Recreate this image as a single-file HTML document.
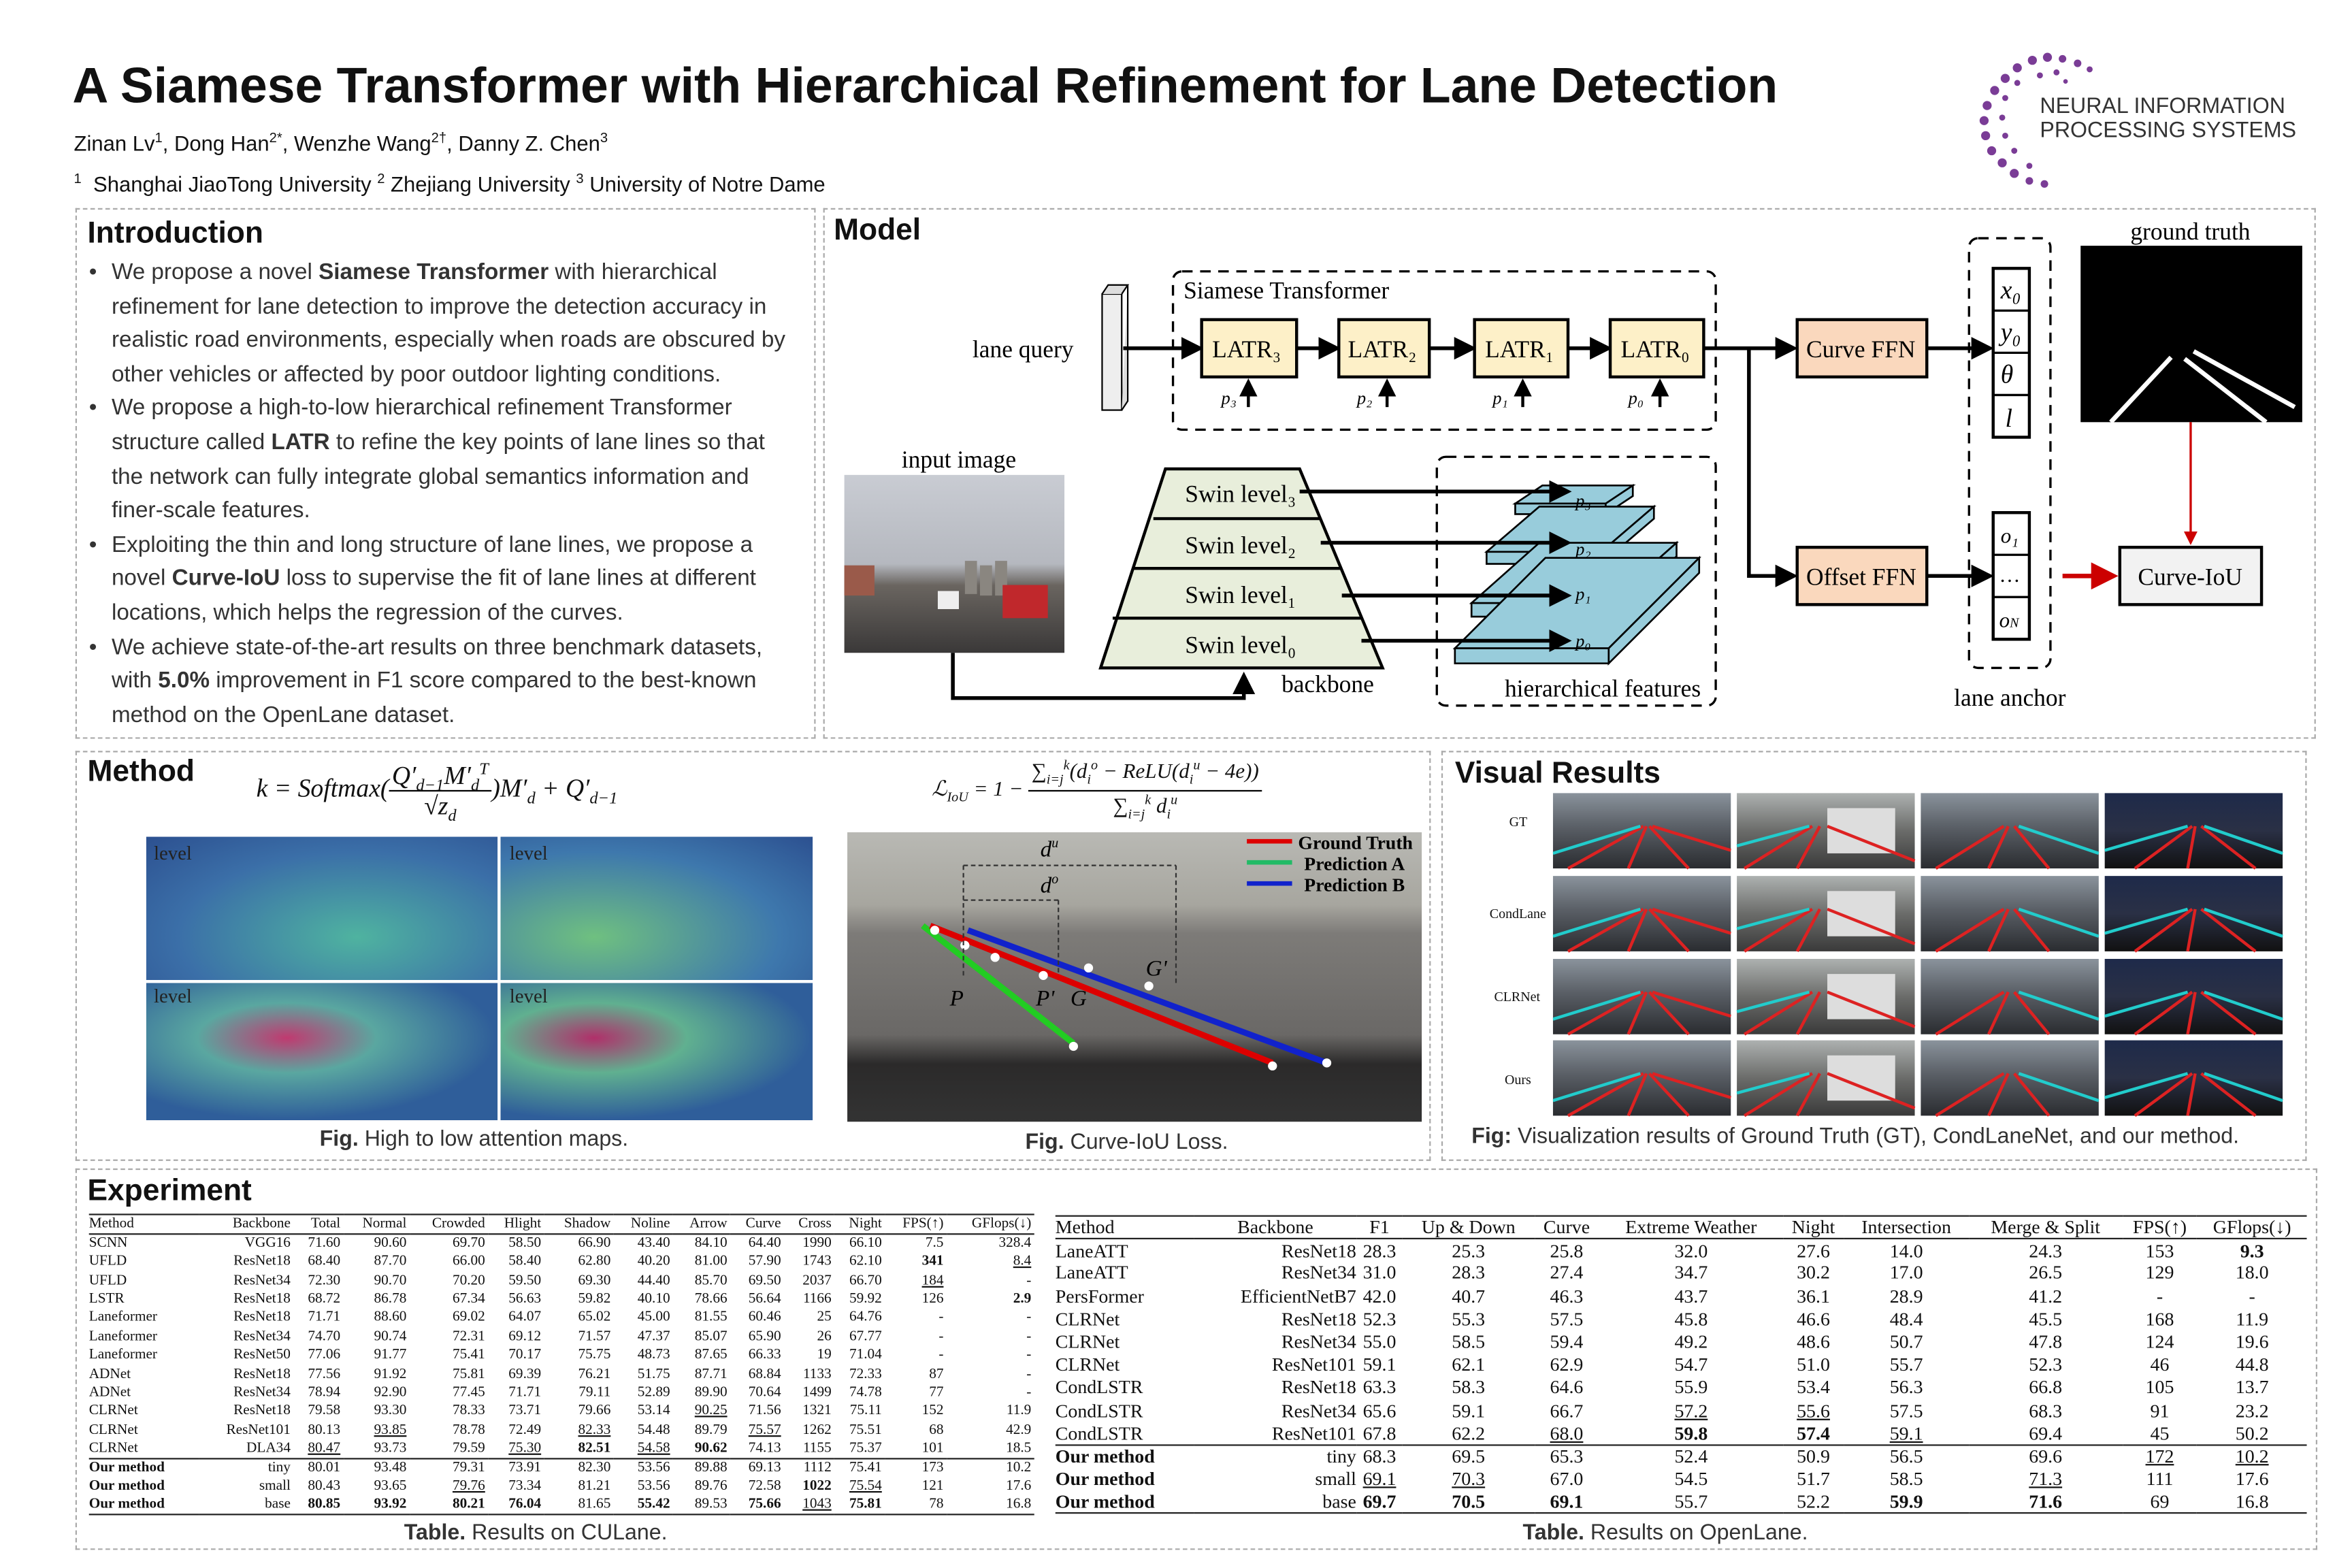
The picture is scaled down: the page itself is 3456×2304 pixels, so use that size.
<!DOCTYPE html>
<html><head><meta charset="utf-8"><style>
*{margin:0;padding:0;box-sizing:border-box}
body{width:3456px;height:2304px;background:#fff;overflow:hidden}
#p{position:absolute;left:0;top:0;width:1560px;height:1040px;transform:scale(2.21538);transform-origin:0 0;font-family:"Liberation Sans",sans-serif;color:#111}
.a{position:absolute}
.box{position:absolute;border:1px dashed #aaa}
h2{position:absolute;font-size:20px;font-weight:bold}
.intro{position:absolute;left:58px;top:170px;width:474px;font-size:15px;line-height:22.6px;color:#333}
.intro li{margin-left:16px;list-style:none;position:relative}
.intro li:before{content:"•";position:absolute;left:-15px}
.cap{position:absolute;font-size:14.5px;color:#333;white-space:nowrap}
table{border-collapse:collapse;font-family:"Liberation Serif",serif;position:absolute}
td{white-space:nowrap;padding:0}
.t1 td{font-size:9.6px;height:12.4px;line-height:12px;text-align:right;padding-right:2px}
.t2 td{font-size:12.6px;height:15.2px;line-height:14px;text-align:center}
.t1 td:first-child,.t2 td:first-child{text-align:left}
.t1 tr.h td,.t2 tr.h td{border-top:1.5px solid #222;border-bottom:1.5px solid #222}
tr.s td{border-top:1.5px solid #222}
tr.e td{border-bottom:1.5px solid #222}
b{font-weight:bold} u{text-decoration:underline}
.img{position:absolute;overflow:hidden}
.fr{display:inline-flex;flex-direction:column;align-items:center;vertical-align:middle;line-height:19px}
.fr>span:first-child{border-bottom:1px solid #000;padding:0 2px}
sub,sup{font-size:65%;line-height:0}
</style></head><body><div id="p">
<div class="a" style="left:48px;top:39px;font-size:33.1px;font-weight:bold;white-space:nowrap">A Siamese Transformer with Hierarchical Refinement for Lane Detection</div>
<div class="a" style="left:49px;top:87px;font-size:14px;white-space:nowrap">Zinan Lv<sup>1</sup>, Dong Han<sup>2*</sup>, Wenzhe Wang<sup>2†</sup>, Danny Z. Chen<sup>3</sup></div>
<div class="a" style="left:49px;top:114px;font-size:14px;white-space:nowrap"><sup>1</sup>&nbsp; Shanghai JiaoTong University <sup>2</sup> Zhejiang University <sup>3</sup> University of Notre Dame</div>
<svg class="a" style="left:1308px;top:30px" width="100" height="98"><g fill="#7a3c96">
<circle cx="50" cy="8" r="3"/><circle cx="40" cy="10" r="3"/><circle cx="60" cy="9" r="2.5"/><circle cx="70" cy="12" r="2.5"/><circle cx="78" cy="16" r="2"/><circle cx="30" cy="15" r="3"/><circle cx="22" cy="22" r="3"/><circle cx="15" cy="30" r="3"/><circle cx="10" cy="40" r="3"/><circle cx="8" cy="50" r="3"/><circle cx="9" cy="60" r="3"/><circle cx="13" cy="70" r="3"/><circle cx="20" cy="78" r="3"/><circle cx="28" cy="85" r="3"/><circle cx="38" cy="90" r="2.5"/><circle cx="48" cy="92" r="2.5"/><circle cx="30" cy="25" r="2"/><circle cx="22" cy="35" r="2"/><circle cx="20" cy="48" r="2"/><circle cx="22" cy="60" r="2"/><circle cx="28" cy="70" r="2"/><circle cx="45" cy="20" r="2"/><circle cx="56" cy="18" r="2"/><circle cx="38" cy="80" r="2"/><circle cx="62" cy="24" r="1.5"/></g></svg>
<div class="a" style="left:1353px;top:63px;font-size:14.5px;line-height:16px;color:#333;white-space:nowrap">NEURAL INFORMATION<br>PROCESSING SYSTEMS</div>

<div class="box" style="left:50px;top:138px;width:491px;height:352px"></div>
<h2 style="left:58px;top:144px">Introduction</h2>
<ul class="intro">
<li>We propose a novel <b>Siamese Transformer</b> with hierarchical refinement for lane detection to improve the detection accuracy in realistic road environments, especially when roads are obscured by other vehicles or affected by poor outdoor lighting conditions.</li>
<li>We propose a high-to-low hierarchical refinement Transformer structure called <b>LATR</b> to refine the key points of lane lines so that the network can fully integrate global semantics information and finer-scale features.</li>
<li>Exploiting the thin and long structure of lane lines, we propose a novel <b>Curve-IoU</b> loss to supervise the fit of lane lines at different locations, which helps the regression of the curves.</li>
<li>We achieve state-of-the-art results on three benchmark datasets, with <b>5.0%</b> improvement in F1 score compared to the best-known method on the OpenLane dataset.</li></ul>

<div class="box" style="left:546px;top:138px;width:990px;height:352px"></div>
<h2 style="left:553px;top:142px">Model</h2>
<svg class="a" style="left:0;top:0" width="1560" height="1040" font-family="Liberation Serif,serif">
<defs><marker id="ar" markerWidth="6" markerHeight="6" refX="5" refY="3" orient="auto"><path d="M0,0L6,3L0,6z" fill="#000"/></marker>
<marker id="rr" markerWidth="6" markerHeight="6" refX="5" refY="3" orient="auto"><path d="M0,0L6,3L0,6z" fill="#c00"/></marker>
<linearGradient id="sky" x1="0" y1="0" x2="0" y2="1"><stop offset="0" stop-color="#c9ccd3"/><stop offset=".5" stop-color="#b5b8bf"/><stop offset=".62" stop-color="#6a6560"/><stop offset="1" stop-color="#3a3838"/></linearGradient></defs>
<g fill="none" stroke="#000" stroke-width="1.5" stroke-dasharray="7,5">
<rect x="778" y="180" width="360" height="105" rx="6"/><rect x="953" y="303" width="185" height="165" rx="6"/><rect x="1306" y="158" width="54" height="285" rx="6"/></g>
<text x="785" y="198" font-size="16">Siamese Transformer</text>
<text x="645" y="237" font-size="16">lane query</text>
<rect x="731" y="195" width="13" height="77" fill="#eee" stroke="#000"/><path d="M731,195l4,-6h13l-4,6M748,189v77l-4,6" fill="#ddd" stroke="#000"/>
<g stroke="#000" stroke-width="2.5" fill="none" marker-end="url(#ar)">
<path d="M745,231H796"/><path d="M860,231H887"/><path d="M948,231H977"/><path d="M1040,231H1067"/><path d="M1130,231H1190"/><path d="M1278,231H1320"/><path d="M1160,231V382H1190"/><path d="M1278,382H1320"/></g>
<g fill="#fdf0c8" stroke="#000" stroke-width="2"><rect x="797" y="212" width="63" height="38"/><rect x="888" y="212" width="60" height="38"/><rect x="978" y="212" width="62" height="38"/><rect x="1068" y="212" width="62" height="38"/></g>
<g font-size="16"><text x="804" y="237">LATR₃</text><text x="894" y="237">LATR₂</text><text x="985" y="237">LATR₁</text><text x="1075" y="237">LATR₀</text></g>
<g stroke="#000" stroke-width="2" fill="none" marker-end="url(#ar)"><path d="M828,270V253"/><path d="M920,270V253"/><path d="M1010,270V253"/><path d="M1101,270V253"/></g>
<g font-size="12" font-style="italic"><text x="810" y="268">p₃</text><text x="900" y="268">p₂</text><text x="990" y="268">p₁</text><text x="1080" y="268">p₀</text></g>
<g fill="#fad8bd" stroke="#000" stroke-width="2"><rect x="1192" y="212" width="86" height="38"/><rect x="1192" y="363" width="86" height="38"/></g>
<text x="1198" y="237" font-size="16">Curve FFN</text><text x="1198" y="388" font-size="16">Offset FFN</text>
<g fill="#fff" stroke="#000" stroke-width="2"><rect x="1322" y="178" width="24" height="112"/><rect x="1322" y="340" width="24" height="84"/></g>
<g stroke="#000" stroke-width="1.5"><path d="M1322,206h24M1322,234h24M1322,262h24M1322,368h24M1322,396h24"/></g>
<g font-size="17" font-style="italic"><text x="1327" y="198">x₀</text><text x="1327" y="226">y₀</text><text x="1327" y="254">θ</text><text x="1330" y="283">l</text><text x="1327" y="360" font-size="14">o₁</text><text x="1327" y="386" font-size="14">…</text><text x="1326" y="416" font-size="14">o<tspan font-size="9">N</tspan></text></g>
<text x="1296" y="468" font-size="16">lane anchor</text>
<text x="1413" y="159" font-size="16">ground truth</text>
<rect x="1380" y="163" width="147" height="117" fill="#000"/>
<path d="M1400,280L1440,237M1449,238L1503,280M1455,233L1522,270" stroke="#fff" stroke-width="3"/>
<path d="M1453,280V360" stroke="#c00" stroke-width="1.5" marker-end="url(#rr)"/>
<path d="M1368,382H1402" stroke="#c00" stroke-width="3" marker-end="url(#rr)"/>
<rect x="1406" y="363" width="94" height="38" fill="#f2f2f2" stroke="#000" stroke-width="2"/><text x="1418" y="388" font-size="16">Curve-IoU</text>
<text x="598" y="310" font-size="16">input image</text>
<rect x="560" y="315" width="146" height="118" fill="url(#sky)"/>
<rect x="640" y="372" width="8" height="22" fill="#8a8680"/><rect x="650" y="375" width="8" height="20" fill="#8a8680"/><rect x="660" y="372" width="8" height="23" fill="#8a8680"/><rect x="560" y="375" width="20" height="20" fill="#9a5a4a"/><rect x="665" y="388" width="30" height="22" fill="#c0282c"/><rect x="622" y="392" width="14" height="12" fill="#eee"/>
<path d="M773,311H862L917,443H730Z" fill="#e8eedb" stroke="#000" stroke-width="2"/>
<path d="M765,344H876M751,377H890M738,410H903" stroke="#000" stroke-width="2"/>
<g font-size="16"><text x="786" y="333">Swin level₃</text><text x="786" y="367">Swin level₂</text><text x="786" y="400">Swin level₁</text><text x="786" y="433">Swin level₀</text></g>
<g fill="#98ccdb" stroke="#000" stroke-width="1.2">
<path d="M1005,334L1023,322H1083L1065,334Z"/><rect x="1005" y="334" width="60" height="7"/><path d="M1065,334L1083,322V329L1065,341Z"/>
<path d="M986,366L1021,336H1097L1062,366Z"/><rect x="986" y="366" width="76" height="8"/><path d="M1062,366L1097,336V344L1062,374Z"/>
<path d="M976,400L1021,360H1112L1067,400Z"/><rect x="976" y="400" width="91" height="9"/><path d="M1067,400L1112,360V369L1067,409Z"/>
<path d="M965,430L1025,370H1127L1067,430Z"/><rect x="965" y="430" width="102" height="10"/><path d="M1067,430L1127,370V380L1067,440Z"/></g>
<g stroke="#000" stroke-width="2.5" fill="none" marker-end="url(#ar)"><path d="M862,326H1040"/><path d="M876,360H1040"/><path d="M890,395H1040"/><path d="M903,425H1040"/></g>
<g font-size="12" font-style="italic"><text x="1045" y="336">p₃</text><text x="1045" y="368">p₂</text><text x="1045" y="398">p₁</text><text x="1045" y="429">p₀</text></g>
<text x="998" y="462" font-size="16">hierarchical features</text>
<text x="850" y="459" font-size="16">backbone</text>
<path d="M632,433V463H825V448" fill="none" stroke="#000" stroke-width="2.5" marker-end="url(#ar)"/>
</svg>

<div class="box" style="left:50px;top:498px;width:899px;height:272px"></div>
<h2 style="left:58px;top:501px">Method</h2>
<div class="a" style="left:170px;top:505px;font-family:'Liberation Serif',serif;font-style:italic;font-size:17px;white-space:nowrap">k = Softmax(<span class="fr"><span>Q′<sub>d−1</sub>M′<sub>d</sub><sup>T</sup></span><span>√z<sub>d</sub></span></span>)M′<sub>d</sub> + Q′<sub>d−1</sub></div>
<div class="a" style="left:618px;top:502px;font-family:'Liberation Serif',serif;font-style:italic;font-size:14px;white-space:nowrap">ℒ<sub>IoU</sub> = 1 − <span class="fr" style="line-height:22px"><span>∑<sub>i=j</sub><sup>k</sup>(d<sub>i</sub><sup>o</sup> − ReLU(d<sub>i</sub><sup>u</sup> − 4e))</span><span>∑<sub>i=j</sub><sup>k</sup> d<sub>i</sub><sup>u</sup></span></span></div>
<div class="img" style="left:97px;top:555px;width:233px;height:95px;background:radial-gradient(ellipse at 60% 70%,#4fb3a0,#3b6fa8 60%,#2c5090)"></div>
<div class="img" style="left:332px;top:555px;width:207px;height:95px;background:radial-gradient(ellipse at 30% 70%,#6fc080,#3e78ad 60%,#2c5090)"></div>
<div class="img" style="left:97px;top:652px;width:233px;height:91px;background:radial-gradient(ellipse at 40% 40%,#c03a70 0%,#5aa7a0 30%,#2f5e9a 70%)"></div>
<div class="img" style="left:332px;top:652px;width:207px;height:91px;background:radial-gradient(ellipse at 30% 40%,#b0306a 0%,#60b090 30%,#2f5e9a 70%)"></div>
<div class="a" style="left:102px;top:558px;font-family:'Liberation Serif',serif;font-size:13px;color:#222">level</div><div class="a" style="left:338px;top:558px;font-family:'Liberation Serif',serif;font-size:13px;color:#222">level</div><div class="a" style="left:102px;top:653px;font-family:'Liberation Serif',serif;font-size:13px;color:#222">level</div><div class="a" style="left:338px;top:653px;font-family:'Liberation Serif',serif;font-size:13px;color:#222">level</div>
<div class="cap" style="left:212px;top:748px"><b>Fig.</b> High to low attention maps.</div>
<div class="img" style="left:562px;top:552px;width:381px;height:192px;background:linear-gradient(#b9b9b4 0,#a7a69f 25%,#7d7b78 35%,#6a6866 70%,#2b2a2a 80%,#333 100%)"></div>
<svg class="a" style="left:562px;top:552px" width="381" height="192" font-family="Liberation Serif,serif">
<path d="M50,62L150,140" stroke="#2c2" stroke-width="4"/><path d="M55,62L282,153" stroke="#d00" stroke-width="4"/><path d="M80,65L318,153" stroke="#12c" stroke-width="4"/>
<g fill="#fff"><circle cx="58" cy="65" r="3"/><circle cx="78" cy="75" r="3"/><circle cx="98" cy="83" r="3"/><circle cx="130" cy="95" r="3"/><circle cx="160" cy="90" r="3"/><circle cx="200" cy="102" r="3"/><circle cx="282" cy="155" r="3"/><circle cx="318" cy="153" r="3"/><circle cx="150" cy="142" r="3"/></g>
<path d="M77,22V95M218,22V100M77,22H218M140,45V95M77,45H140" stroke="#333" stroke-dasharray="3,2" fill="none"/>
<g font-size="15" font-style="italic"><text x="128" y="16">d<tspan font-size="9" dy="-6">u</tspan></text><text x="128" y="40">d<tspan font-size="9" dy="-6">o</tspan></text><text x="68" y="115">P</text><text x="125" y="115">P'</text><text x="148" y="115">G</text><text x="198" y="95">G'</text></g>
<path d="M265,6H295" stroke="#d00" stroke-width="3"/><path d="M265,20H295" stroke="#2b6" stroke-width="3"/><path d="M265,34H295" stroke="#12c" stroke-width="3"/>
<g font-size="12.5" font-weight="bold"><text x="299" y="11">Ground Truth</text><text x="303" y="25">Prediction A</text><text x="303" y="39">Prediction B</text></g></svg>
<div class="cap" style="left:680px;top:750px"><b>Fig.</b> Curve-IoU Loss.</div>

<div class="box" style="left:956px;top:498px;width:574px;height:272px"></div>
<h2 style="left:965px;top:502px">Visual Results</h2>
<div class="a" style="left:1001px;top:540px;font-family:'Liberation Serif',serif;font-size:9px">GT</div>
<div class="a" style="left:988px;top:601px;font-family:'Liberation Serif',serif;font-size:9px">CondLane</div>
<div class="a" style="left:991px;top:656px;font-family:'Liberation Serif',serif;font-size:9px">CLRNet</div>
<div class="a" style="left:998px;top:711px;font-family:'Liberation Serif',serif;font-size:9px">Ours</div>
<svg class="a" style="left:1030px;top:526px" width="486" height="216">
<defs><linearGradient id="g1" x1="0" y1="0" x2="0" y2="1"><stop offset="0" stop-color="#8a939c"/><stop offset=".45" stop-color="#5a5f66"/><stop offset="1" stop-color="#2a2c30"/></linearGradient>
<linearGradient id="g2" x1="0" y1="0" x2="0" y2="1"><stop offset="0" stop-color="#adb1b0"/><stop offset=".5" stop-color="#6b6c6a"/><stop offset="1" stop-color="#3a3a3a"/></linearGradient>
<linearGradient id="g3" x1="0" y1="0" x2="0" y2="1"><stop offset="0" stop-color="#1e2a4a"/><stop offset=".5" stop-color="#2a3045"/><stop offset="1" stop-color="#111"/></linearGradient>
<g id="c1"><rect width="118" height="50" fill="url(#g1)"/><path d="M10,50L60,22M50,50L62,22M90,50L64,22M118,38L66,22" stroke-width="2" stroke="#d22" fill="none"/><path d="M0,40L58,22" stroke="#2cc" stroke-width="2"/></g>
<g id="c2"><rect width="118" height="50" fill="url(#g2)"/><rect x="60" y="10" width="45" height="30" fill="#ddd"/><path d="M5,50L50,22M40,50L55,22M118,45L60,22" stroke-width="2" stroke="#d22" fill="none"/><path d="M0,35L48,22" stroke="#2cc" stroke-width="2"/></g>
<g id="c3"><rect width="118" height="50" fill="url(#g1)"/><path d="M10,50L55,22M45,50L58,22M85,50L62,22" stroke-width="2" stroke="#d22" fill="none"/><path d="M118,40L65,22" stroke="#2cc" stroke-width="2"/></g>
<g id="c4"><rect width="118" height="50" fill="url(#g3)"/><path d="M20,50L58,22M55,50L60,22M100,50L64,22" stroke-width="2" stroke="#d22" fill="none"/><path d="M0,38L55,22M118,40L66,22" stroke="#2cc" stroke-width="2"/></g></defs>
<use href="#c1"/><use href="#c2" x="122"/><use href="#c3" x="244"/><use href="#c4" x="366"/>
<use href="#c1" y="55"/><use href="#c2" x="122" y="55"/><use href="#c3" x="244" y="55"/><use href="#c4" x="366" y="55"/>
<use href="#c1" y="110"/><use href="#c2" x="122" y="110"/><use href="#c3" x="244" y="110"/><use href="#c4" x="366" y="110"/>
<use href="#c1" y="164"/><use href="#c2" x="122" y="164"/><use href="#c3" x="244" y="164"/><use href="#c4" x="366" y="164"/></svg>
<div class="cap" style="left:976px;top:746px"><b>Fig:</b> Visualization results of Ground Truth (GT), CondLaneNet, and our method.</div>

<div class="box" style="left:50px;top:775px;width:1487px;height:253px"></div>
<h2 style="left:58px;top:779px">Experiment</h2>
<table class="t1" style="left:59px;top:805px;width:627px">
<tr class="h"><td>Method</td><td>Backbone</td><td>Total</td><td>Normal</td><td>Crowded</td><td>Hlight</td><td>Shadow</td><td>Noline</td><td>Arrow</td><td>Curve</td><td>Cross</td><td>Night</td><td>FPS(↑)</td><td>GFlops(↓)</td></tr>
<tr><td>SCNN</td><td>VGG16</td><td>71.60</td><td>90.60</td><td>69.70</td><td>58.50</td><td>66.90</td><td>43.40</td><td>84.10</td><td>64.40</td><td>1990</td><td>66.10</td><td>7.5</td><td>328.4</td></tr>
<tr><td>UFLD</td><td>ResNet18</td><td>68.40</td><td>87.70</td><td>66.00</td><td>58.40</td><td>62.80</td><td>40.20</td><td>81.00</td><td>57.90</td><td>1743</td><td>62.10</td><td><b>341</b></td><td><u>8.4</u></td></tr>
<tr><td>UFLD</td><td>ResNet34</td><td>72.30</td><td>90.70</td><td>70.20</td><td>59.50</td><td>69.30</td><td>44.40</td><td>85.70</td><td>69.50</td><td>2037</td><td>66.70</td><td><u>184</u></td><td>-</td></tr>
<tr><td>LSTR</td><td>ResNet18</td><td>68.72</td><td>86.78</td><td>67.34</td><td>56.63</td><td>59.82</td><td>40.10</td><td>78.66</td><td>56.64</td><td>1166</td><td>59.92</td><td>126</td><td><b>2.9</b></td></tr>
<tr><td>Laneformer</td><td>ResNet18</td><td>71.71</td><td>88.60</td><td>69.02</td><td>64.07</td><td>65.02</td><td>45.00</td><td>81.55</td><td>60.46</td><td>25</td><td>64.76</td><td>-</td><td>-</td></tr>
<tr><td>Laneformer</td><td>ResNet34</td><td>74.70</td><td>90.74</td><td>72.31</td><td>69.12</td><td>71.57</td><td>47.37</td><td>85.07</td><td>65.90</td><td>26</td><td>67.77</td><td>-</td><td>-</td></tr>
<tr><td>Laneformer</td><td>ResNet50</td><td>77.06</td><td>91.77</td><td>75.41</td><td>70.17</td><td>75.75</td><td>48.73</td><td>87.65</td><td>66.33</td><td>19</td><td>71.04</td><td>-</td><td>-</td></tr>
<tr><td>ADNet</td><td>ResNet18</td><td>77.56</td><td>91.92</td><td>75.81</td><td>69.39</td><td>76.21</td><td>51.75</td><td>87.71</td><td>68.84</td><td>1133</td><td>72.33</td><td>87</td><td>-</td></tr>
<tr><td>ADNet</td><td>ResNet34</td><td>78.94</td><td>92.90</td><td>77.45</td><td>71.71</td><td>79.11</td><td>52.89</td><td>89.90</td><td>70.64</td><td>1499</td><td>74.78</td><td>77</td><td>-</td></tr>
<tr><td>CLRNet</td><td>ResNet18</td><td>79.58</td><td>93.30</td><td>78.33</td><td>73.71</td><td>79.66</td><td>53.14</td><td><u>90.25</u></td><td>71.56</td><td>1321</td><td>75.11</td><td>152</td><td>11.9</td></tr>
<tr><td>CLRNet</td><td>ResNet101</td><td>80.13</td><td><u>93.85</u></td><td>78.78</td><td>72.49</td><td><u>82.33</u></td><td>54.48</td><td>89.79</td><td><u>75.57</u></td><td>1262</td><td>75.51</td><td>68</td><td>42.9</td></tr>
<tr><td>CLRNet</td><td>DLA34</td><td><u>80.47</u></td><td>93.73</td><td>79.59</td><td><u>75.30</u></td><td><b>82.51</b></td><td><u>54.58</u></td><td><b>90.62</b></td><td>74.13</td><td>1155</td><td>75.37</td><td>101</td><td>18.5</td></tr>
<tr class="s"><td><b>Our method</b></td><td>tiny</td><td>80.01</td><td>93.48</td><td>79.31</td><td>73.91</td><td>82.30</td><td>53.56</td><td>89.88</td><td>69.13</td><td>1112</td><td>75.41</td><td>173</td><td>10.2</td></tr>
<tr><td><b>Our method</b></td><td>small</td><td>80.43</td><td>93.65</td><td><u>79.76</u></td><td>73.34</td><td>81.21</td><td>53.56</td><td>89.76</td><td>72.58</td><td><b>1022</b></td><td><u>75.54</u></td><td>121</td><td>17.6</td></tr>
<tr class="e"><td><b>Our method</b></td><td>base</td><td><b>80.85</b></td><td><b>93.92</b></td><td><b>80.21</b></td><td><b>76.04</b></td><td>81.65</td><td><b>55.42</b></td><td>89.53</td><td><b>75.66</b></td><td><u>1043</u></td><td><b>75.81</b></td><td>78</td><td>16.8</td></tr>
</table>
<div class="cap" style="left:268px;top:1009px"><b>Table.</b> Results on CULane.</div>
<table class="t2" style="left:700px;top:806px;width:830px">
<tr class="h"><td>Method</td><td>Backbone</td><td>F1</td><td>Up &amp; Down</td><td>Curve</td><td>Extreme Weather</td><td>Night</td><td>Intersection</td><td>Merge &amp; Split</td><td>FPS(↑)</td><td>GFlops(↓)</td></tr>
<tr><td>LaneATT</td><td style="text-align:right">ResNet18</td><td>28.3</td><td>25.3</td><td>25.8</td><td>32.0</td><td>27.6</td><td>14.0</td><td>24.3</td><td>153</td><td><b>9.3</b></td></tr>
<tr><td>LaneATT</td><td style="text-align:right">ResNet34</td><td>31.0</td><td>28.3</td><td>27.4</td><td>34.7</td><td>30.2</td><td>17.0</td><td>26.5</td><td>129</td><td>18.0</td></tr>
<tr><td>PersFormer</td><td style="text-align:right">EfficientNetB7</td><td>42.0</td><td>40.7</td><td>46.3</td><td>43.7</td><td>36.1</td><td>28.9</td><td>41.2</td><td>-</td><td>-</td></tr>
<tr><td>CLRNet</td><td style="text-align:right">ResNet18</td><td>52.3</td><td>55.3</td><td>57.5</td><td>45.8</td><td>46.6</td><td>48.4</td><td>45.5</td><td>168</td><td>11.9</td></tr>
<tr><td>CLRNet</td><td style="text-align:right">ResNet34</td><td>55.0</td><td>58.5</td><td>59.4</td><td>49.2</td><td>48.6</td><td>50.7</td><td>47.8</td><td>124</td><td>19.6</td></tr>
<tr><td>CLRNet</td><td style="text-align:right">ResNet101</td><td>59.1</td><td>62.1</td><td>62.9</td><td>54.7</td><td>51.0</td><td>55.7</td><td>52.3</td><td>46</td><td>44.8</td></tr>
<tr><td>CondLSTR</td><td style="text-align:right">ResNet18</td><td>63.3</td><td>58.3</td><td>64.6</td><td>55.9</td><td>53.4</td><td>56.3</td><td>66.8</td><td>105</td><td>13.7</td></tr>
<tr><td>CondLSTR</td><td style="text-align:right">ResNet34</td><td>65.6</td><td>59.1</td><td>66.7</td><td><u>57.2</u></td><td><u>55.6</u></td><td>57.5</td><td>68.3</td><td>91</td><td>23.2</td></tr>
<tr><td>CondLSTR</td><td style="text-align:right">ResNet101</td><td>67.8</td><td>62.2</td><td><u>68.0</u></td><td><b>59.8</b></td><td><b>57.4</b></td><td><u>59.1</u></td><td>69.4</td><td>45</td><td>50.2</td></tr>
<tr class="s"><td><b>Our method</b></td><td style="text-align:right">tiny</td><td>68.3</td><td>69.5</td><td>65.3</td><td>52.4</td><td>50.9</td><td>56.5</td><td>69.6</td><td><u>172</u></td><td><u>10.2</u></td></tr>
<tr><td><b>Our method</b></td><td style="text-align:right">small</td><td><u>69.1</u></td><td><u>70.3</u></td><td>67.0</td><td>54.5</td><td>51.7</td><td>58.5</td><td><u>71.3</u></td><td>111</td><td>17.6</td></tr>
<tr class="e"><td><b>Our method</b></td><td style="text-align:right">base</td><td><b>69.7</b></td><td><b>70.5</b></td><td><b>69.1</b></td><td>55.7</td><td>52.2</td><td><b>59.9</b></td><td><b>71.6</b></td><td>69</td><td>16.8</td></tr>
</table>
<div class="cap" style="left:1010px;top:1009px"><b>Table.</b> Results on OpenLane.</div>
</div></body></html>
